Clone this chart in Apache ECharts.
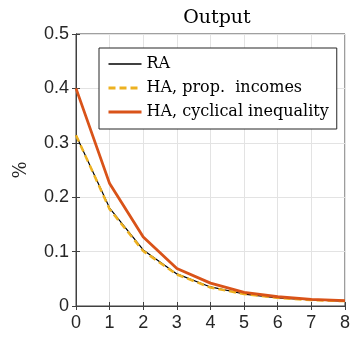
<!DOCTYPE html>
<html>
<head>
<meta charset="utf-8">
<script src="https://cdn.jsdelivr.net/npm/echarts@6/dist/echarts.min.js"></script>
<style>
html, body { margin: 0; padding: 0; background: #fff; }
#chart { width: 353px; height: 337px; }
</style>
</head>
<body>
<div id="chart"></div>
<script>
// quarters after the shock
const quarters = [0, 1, 2, 3, 4, 5, 6, 7, 8];
// output response, in %
const raValues = [0.314, 0.180, 0.103, 0.059, 0.035, 0.022, 0.015, 0.011, 0.009];
const haPropValues = [0.314, 0.178, 0.101, 0.058, 0.034, 0.022, 0.015, 0.011, 0.009];
const haCyclicalValues = [0.400, 0.225, 0.127, 0.069, 0.042, 0.025, 0.017, 0.012, 0.010];
const seriesNames = ['RA', 'HA, prop.  incomes', 'HA, cyclical inequality'];

const chartDom = document.getElementById('chart');
const myChart = echarts.init(chartDom);

const toPairs = vals => quarters.map((q, i) => [q, vals[i]]);

const tickFont = { fontFamily: 'Liberation Sans', fontSize: 18, color: '#262626' };
const frameColor = '#404040';

const option = {
    animation: false,
    title: {
        text: 'Output',
        left: 212,
        top: 4,
        textAlign: 'center',
        textStyle: { fontFamily: 'DejaVu Serif', fontWeight: 'normal', fontSize: 19, color: '#000' }
    },
    legend: {
        orient: 'vertical',
        left: 99,
        top: 48,
        padding: [8, 8, 9, 8],
        itemWidth: 33,
        itemHeight: 14,
        itemGap: 8,
        backgroundColor: '#fff',
        borderColor: '#262626',
        borderWidth: 1,
        borderRadius: 0,
        itemStyle: { color: 'rgba(0,0,0,0)', borderWidth: 0, opacity: 0 },
        textStyle: { fontFamily: 'DejaVu Serif', fontSize: 16, color: '#000' },
        data: [
            { name: seriesNames[0], lineStyle: { width: 1.6 } },
            { name: seriesNames[1], lineStyle: { width: 3, type: [7, 4] } },
            { name: seriesNames[2], lineStyle: { width: 3 } }
        ]
    },
    grid: {
        left: 76,
        right: 6,
        top: 34,
        bottom: 31,
        show: true,
        borderColor: frameColor,
        borderWidth: 1
    },
    xAxis: [{
        type: 'value',
        min: 0,
        max: 8,
        interval: 1,
        axisLine: { show: true, lineStyle: { color: frameColor } },
        axisTick: { show: true, inside: true, length: 4, lineStyle: { color: frameColor } },
        axisLabel: Object.assign({ margin: 8 }, tickFont),
        splitLine: { show: true, lineStyle: { color: '#e3e3e3' } }
    }, {
        type: 'value',
        position: 'top',
        min: 0,
        max: 8,
        interval: 1,
        axisLine: { show: true, lineStyle: { color: frameColor } },
        axisTick: { show: true, inside: true, length: 4, lineStyle: { color: frameColor } },
        axisLabel: { show: false },
        splitLine: { show: false }
    }],
    yAxis: [{
        type: 'value',
        min: 0,
        max: 0.5,
        interval: 0.1,
        name: '%',
        nameLocation: 'middle',
        nameGap: 46,
        nameTextStyle: { fontFamily: 'DejaVu Serif', fontSize: 18, color: '#262626' },
        axisLine: { show: true, lineStyle: { color: frameColor } },
        axisTick: { show: true, inside: true, length: 4, lineStyle: { color: frameColor } },
        axisLabel: Object.assign({ margin: 7, formatter: v => (v === 0 ? '0' : v.toFixed(1)) }, tickFont),
        splitLine: { show: true, lineStyle: { color: '#e3e3e3' } }
    }, {
        type: 'value',
        position: 'right',
        min: 0,
        max: 0.5,
        interval: 0.1,
        axisLine: { show: true, lineStyle: { color: frameColor } },
        axisTick: { show: true, inside: true, length: 4, lineStyle: { color: frameColor } },
        axisLabel: { show: false },
        splitLine: { show: false }
    }],
    series: [{
        name: seriesNames[0],
        type: 'line',
        data: toPairs(raValues),
        symbol: 'none',
        color: '#000000',
        lineStyle: { color: '#000000', width: 1.2 }
    }, {
        name: seriesNames[1],
        type: 'line',
        data: toPairs(haPropValues),
        symbol: 'none',
        color: '#EDB120',
        lineStyle: { color: '#EDB120', width: 2.5, type: [7, 4] }
    }, {
        name: seriesNames[2],
        type: 'line',
        data: toPairs(haCyclicalValues),
        symbol: 'none',
        color: '#D95319',
        lineStyle: { color: '#D95319', width: 2.8 }
    }]
};
myChart.setOption(option);
</script>
</body>
</html>
